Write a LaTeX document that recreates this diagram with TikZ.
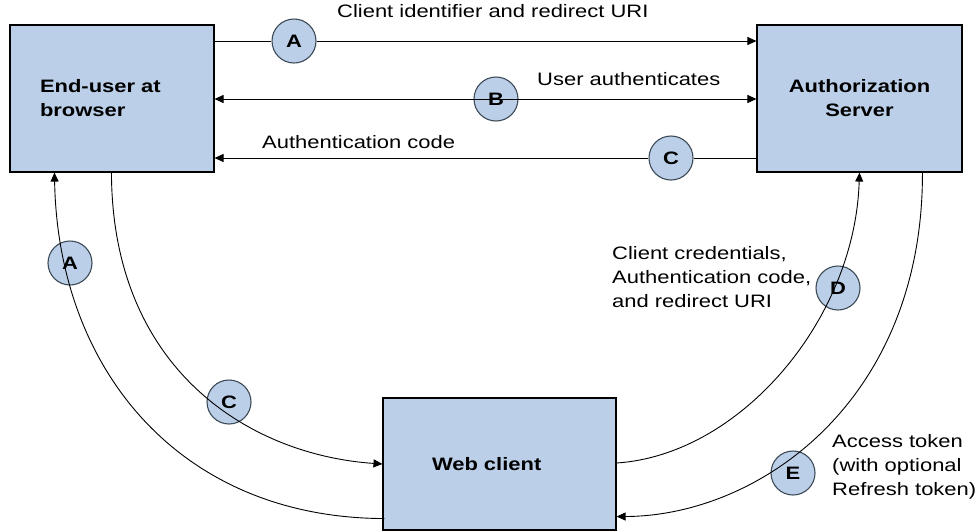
\documentclass[tikz,border=0pt]{standalone}
\usepackage{fontspec}
\setmainfont{Liberation Sans}[FakeStretch=1.22]
\usetikzlibrary{arrows.meta,calc}
\definecolor{boxblue}{HTML}{BBD0E8}
\definecolor{circedge}{HTML}{3D4A57}
\begin{document}
\begin{tikzpicture}[x=1pt,y=-1pt,
  font=\fontsize{18}{24}\selectfont,
  box/.style={draw=black, line width=1.1pt, fill=boxblue, rectangle, inner sep=0pt, font=\fontsize{18}{24}\selectfont\bfseries},
  badge/.style={circle, draw=circedge, line width=1.1pt, fill=boxblue, minimum size=44pt, inner sep=0pt, font=\fontsize{18}{24}\selectfont\bfseries},
  conn/.style={draw=black, line width=0.9pt},
  tip/.style={-{Triangle[length=9pt,width=8pt]}},
  tips/.style={{Triangle[length=9pt,width=8pt]}-{Triangle[length=9pt,width=8pt]}},
  lbl/.style={inner sep=0pt, align=left}]
\useasboundingbox (0,0) rectangle (980,531);

% boxes
\node[box, minimum width=204pt, minimum height=147pt, text width=144pt, inner xsep=30pt, align=left] (eu) at (112,98.5) {End-user at\\browser};
\node[box, minimum width=205pt, minimum height=147pt, align=center] (as) at (859.5,98.5) {Authorization\\Server};
\node[box, minimum width=233pt, minimum height=132pt, text width=135pt, inner xsep=49pt, align=left] (wc) at (499.5,464) {Web client};

% badges crossed by lines
\node[badge] (bB) at (496,99) {B};
\node[badge] (bA2) at (70,263) {A};
\node[badge] (bC2) at (229,402) {C};
\node[badge] (bD) at (838,288) {D};
\node[badge] (bE) at (793,473) {E};

% horizontal connectors
\node[badge] (bA1) at (294,41) {A};
\node[badge] (bC1) at (671,158) {C};
\draw[conn] (eu.east |- bA1) -- (bA1);
\draw[conn,tip] (bA1) -- (as.west |- bA1);
\draw[conn,tips] (eu.east |- bB) -- (as.west |- bB);
\draw[conn] (as.west |- bC1) -- (bC1);
\draw[conn,tip] (bC1) -- (eu.east |- bC1);

% curved connectors
\coordinate (aStart) at ($(wc.south west)+(2,-12)$);
\coordinate (aEnd) at ($(eu.south west)+(45,0)$);
\draw[conn,tip] (aStart) .. controls (180,518) and (58,370) .. (aEnd);

\coordinate (cStart) at ($(eu.south west)+(102,0)$);
\draw[conn,tip] (cStart) .. controls (112,370) and (250,455) .. (wc.west);

\coordinate (dStart) at ($(wc.east)+(0,-1)$);
\coordinate (dEnd) at ($(as.south west)+(103,0)$);
\draw[conn,tip] (dStart) .. controls (740,455) and (855,320) .. (dEnd);

\coordinate (eStart) at ($(as.south west)+(166,0)$);
\coordinate (eEnd) at ($(wc.south east)+(0,-14)$);
\draw[conn,tip] (eStart) .. controls (923,400) and (760,516) .. (eEnd);

% labels
\node[lbl, anchor=base west] (lA) at (337,17) {Client identifier and redirect URI};
\node[lbl, anchor=base west] (lB) at (537,85) {User authenticates};
\node[lbl, anchor=base west] (lC) at (262,148) {Authentication code};
\node[lbl, anchor=north west] (lD) at (612,246) {Client credentials,\\Authentication code,\\and redirect URI};
\node[lbl, anchor=north west] (lE) at (832,434) {Access token\\(with optional\\Refresh token)};
\end{tikzpicture}
\end{document}
